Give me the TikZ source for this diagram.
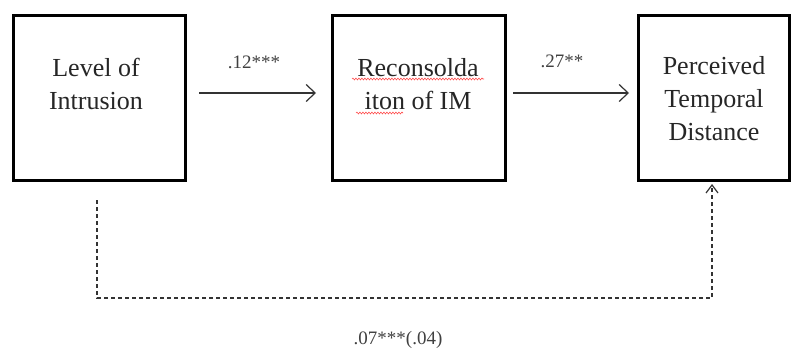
\documentclass[tikz,border=0pt]{standalone}
\usepackage{fontspec}
\setmainfont{Liberation Serif}
\usetikzlibrary{arrows.meta,decorations.pathmorphing}
\begin{document}
\begin{tikzpicture}[x=1pt,y=-1pt,
  box/.style={draw=black,line width=3pt,minimum width=#1,minimum height=165pt,inner sep=0pt},
  boxtext/.style={font=\fontsize{26}{33}\selectfont,align=center,text=black!85,inner sep=0pt},
  coef/.style={font=\fontsize{19}{20}\selectfont,text=black!75,inner sep=0pt},
  path/.style={draw=black!80,line width=1.2pt,-{Straight Barb[length=9pt,width=17pt,line width=1.2pt]}},
  dpath/.style={draw=black!80,line width=1.2pt,dash pattern=on 4pt off 3pt,-{Straight Barb[length=8pt,width=12pt,line width=1.2pt]}},
  spell/.style={draw=red!70,line width=0.6pt,decorate,decoration={snake,amplitude=0.9pt,segment length=3pt}}]
\useasboundingbox (0,0) rectangle (802,351);
\node[box=172pt] (b1) at (99,97.5) {};
\node[box=173pt] (b2) at (418.5,97.5) {};
\node[box=151pt] (b3) at (713.5,97.5) {};
\node[boxtext] (t1) at (96,84) {Level of\\Intrusion};
\node[boxtext] (t2) at (418,84) {Reconsolda\\iton of IM};
\node[boxtext] (t3) at (714,99) {Perceived\\Temporal\\Distance};
\coordinate (u1a) at (352,79);
\coordinate (u1b) at (484,79);
\coordinate (u2a) at (356,113);
\coordinate (u2b) at (403,113);
\draw[spell] (u1a) -- (u1b);
\draw[spell] (u2a) -- (u2b);
\coordinate (a1s) at (199,93);
\coordinate (a1e) at (316,93);
\coordinate (a2s) at (513,93);
\coordinate (a2e) at (629,93);
\draw[path] (a1s) -- (a1e);
\draw[path] (a2s) -- (a2e);
\node[coef] (c1) at (254,62) {.12***};
\node[coef] (c2) at (562,61) {.27**};
\coordinate (ds) at (97,200);
\coordinate (dc1) at (97,298);
\coordinate (dc2) at (712,298);
\coordinate (de) at (712,184);
\draw[dpath] (ds) -- (dc1) -- (dc2) -- (de);
\node[coef] (c3) at (398,340) {.07***(.04)};
\end{tikzpicture}
\end{document}
